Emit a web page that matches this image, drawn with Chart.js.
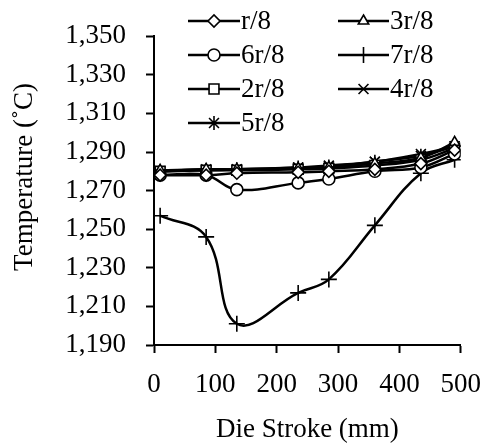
<!DOCTYPE html>
<html><head><meta charset="utf-8">
<script src="https://cdn.jsdelivr.net/npm/chart.js@4"></script>
<style>html,body{margin:0;padding:0;background:#fff}#wrap{width:497px;height:446px}</style>
</head><body><div id="wrap"><canvas id="c" width="497" height="446"></canvas></div>
<script>
const strokes = [10, 85, 135, 235, 285, 360, 435, 490];
const seriesNames = ['r/8', '3r/8', '6r/8', '7r/8', '2r/8', '4r/8', '5r/8'];
const r1 = [1278, 1278, 1279, 1279.5, 1280, 1281, 1284, 1291];
const r3 = [1280.5, 1281, 1281, 1281.5, 1282, 1284, 1287, 1295];
const r6 = [1278, 1278, 1270.5, 1274, 1276, 1280, 1282, 1289];
const r7 = [1257, 1246, 1201, 1217, 1224, 1252, 1279, 1286];
const r2 = [1280, 1280.5, 1280.5, 1281, 1281.5, 1283, 1286, 1292];
const r4 = [1280, 1281, 1281, 1282, 1283, 1285, 1289, 1293];
const r5 = [1280, 1280.5, 1281, 1282, 1282.5, 1285, 1288, 1293];
const yTicks = [1190, 1210, 1230, 1250, 1270, 1290, 1310, 1330, 1350];
const xTicks = [0, 100, 200, 300, 400, 500];
const xTitle = 'Die Stroke (mm)';
const yTitle = 'Temperature (˚C)';

const values = [r1, r3, r6, r7, r2, r4, r5];
const styles = [
  {pointStyle:'rectRot', pointRadius:6},
  {pointStyle:'triangle', pointRadius:6},
  {pointStyle:'circle', pointRadius:6},
  {pointStyle:'cross', pointRadius:8},
  {pointStyle:'rect', pointRadius:7},
  {pointStyle:'crossRot', pointRadius:7},
  {pointStyle:'star', pointRadius:7}
];
const FONT = '"Liberation Serif", "Times New Roman", serif';
const FS = 27;

const datasets = seriesNames.map((n, i) => ({
  label: n,
  data: strokes.map((x, j) => ({x: x, y: values[i][j]})),
  borderColor: '#000',
  backgroundColor: '#fff',
  borderWidth: 2.5,
  pointBorderWidth: 1.6,
  pointBorderColor: '#000',
  pointBackgroundColor: '#fff',
  pointStyle: styles[i].pointStyle,
  pointRadius: styles[i].pointRadius,
  tension: 0.4,
  fill: false
}));

const legendPlugin = {
  id: 'customLegend',
  afterDraw(chart) {
    const ctx = chart.ctx;
    const rowsY = [21, 55, 89, 123];
    const cols = [{x0:188, x1:240, tx:241}, {x0:338, x1:389, tx:390}];
    ctx.save();
    chart.data.datasets.forEach((ds, i) => {
      const row = Math.floor(i / 2), col = i % 2;
      const y = rowsY[row], c = cols[col];
      ctx.strokeStyle = '#000';
      ctx.lineWidth = 2.5;
      ctx.beginPath(); ctx.moveTo(c.x0, y); ctx.lineTo(c.x1, y); ctx.stroke();
      ctx.fillStyle = '#fff';
      ctx.lineWidth = 1.6;
      Chart.helpers.drawPoint(ctx, {pointStyle: ds.pointStyle, radius: ds.pointRadius, rotation: 0, borderWidth: 1.6}, (c.x0 + c.x1) / 2, y);
      ctx.fillStyle = '#000';
      ctx.font = FS + 'px ' + FONT;
      ctx.textAlign = 'left';
      ctx.textBaseline = 'middle';
      ctx.fillText(ds.label, c.tx, y + 1);
    });
    // y-axis title
    ctx.translate(25, 177);
    ctx.rotate(-Math.PI / 2);
    ctx.fillStyle = '#000';
    ctx.font = FS + 'px ' + FONT;
    ctx.textAlign = 'center';
    ctx.textBaseline = 'middle';
    ctx.fillText(yTitle, 0, 0);
    ctx.restore();
  }
};

new Chart(document.getElementById('c'), {
  type: 'line',
  data: { datasets },
  options: {
    responsive: false,
    animation: false,
    layout: { padding: { left: 0, right: 22, top: 24, bottom: 0 } },
    plugins: { legend: { display: false }, tooltip: { enabled: false } },
    scales: {
      x: {
        type: 'linear', min: 0, max: 500,
        afterBuildTicks: (s) => { s.ticks = xTicks.map(v => ({value: v})); },
        afterFit: (s) => { s.height = 101; },
        border: { color: '#000', width: 2 },
        grid: { drawOnChartArea: false, drawTicks: true, tickLength: 8, tickColor: '#000', tickWidth: 2 },
        ticks: { color: '#000', font: { family: FONT, size: FS }, padding: 16, maxRotation: 0 },
        title: { display: true, text: xTitle, color: '#000', font: { family: FONT, size: FS }, padding: { top: -3, bottom: 0 } }
      },
      y: {
        type: 'linear', min: 1190, max: 1350,
        afterBuildTicks: (s) => { s.ticks = yTicks.map(v => ({value: v})); },
        afterFit: (s) => { s.width = 154; },
        border: { color: '#000', width: 2 },
        grid: { drawOnChartArea: false, drawTicks: true, tickLength: 8, tickColor: '#000', tickWidth: 2 },
        ticks: { color: '#000', font: { family: FONT, size: FS }, padding: 20,
          callback: (v) => v.toLocaleString('en-US') },
        title: { display: false }
      }
    }
  },
  plugins: [legendPlugin]
});
</script></body></html>
